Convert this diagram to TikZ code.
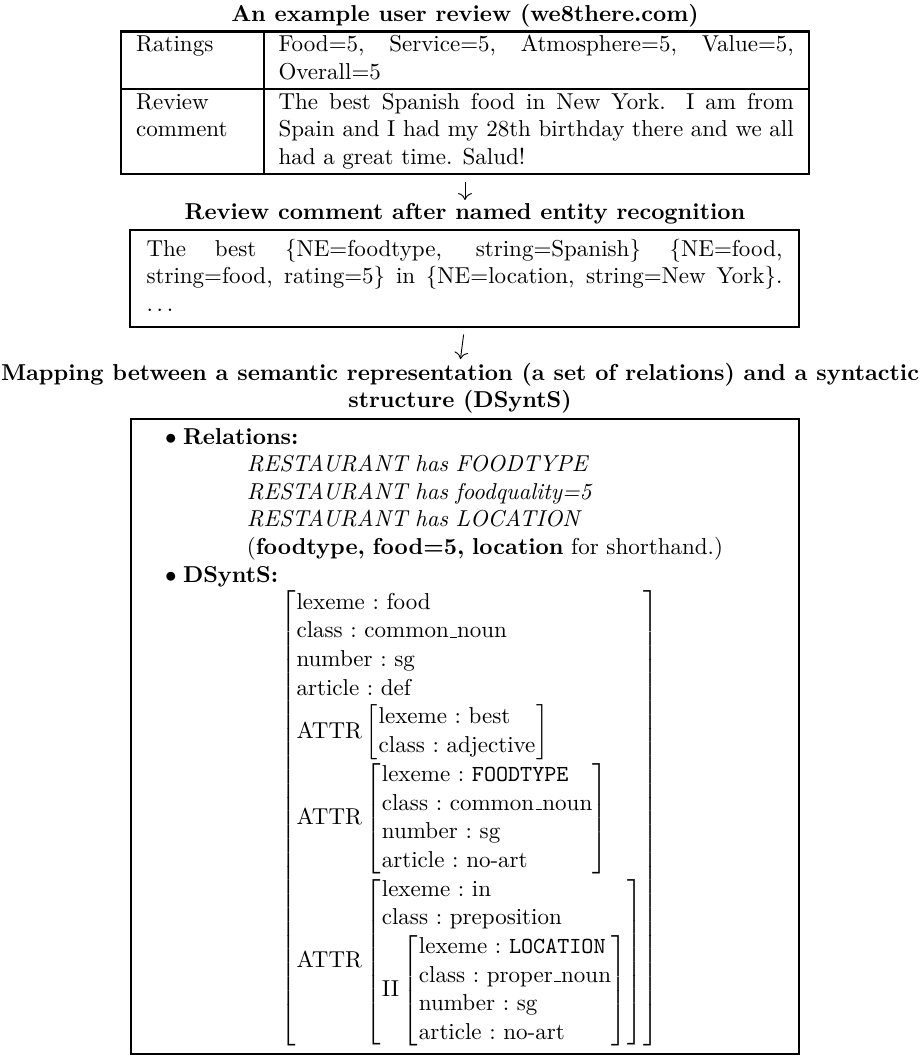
\documentclass[tikz,border=0pt]{standalone}
\usepackage{array}
\usetikzlibrary{arrows.meta}
\setlength{\arrayrulewidth}{0.9pt}
\newcommand{\avmbox}[1]{\left[\begin{array}{@{\hspace{0.3pt}}l@{\hspace{0.3pt}}}#1\end{array}\right]}
\newcommand{\us}{\leavevmode\kern.06em\vbox{\hrule width .3em}}
\newcommand{\av}[1]{\mbox{\frenchspacing #1}}
\tikzset{
  ttl/.style={font=\bfseries, inner sep=0pt},
  box/.style={draw, line width=0.9pt},
  arr/.style={-{Computer Modern Rightarrow[length=3pt,width=6pt]}, line width=0.4pt, shorten <=3pt, shorten >=1.5pt}
}
\begin{document}
\begin{tikzpicture}[x=0.4348pt, y=-0.4348pt]
\useasboundingbox (0,0) rectangle (919,1056);

\node[ttl, anchor=base] (t1) at (465,22) {An example user review (we8there.com)};

\node[anchor=north, inner sep=0pt] (tab) at (465,30) {%
\begin{tabular}{|p{49pt}|p{224pt}|}\hline
Ratings & Food=5, Service=5, Atmosphere=5, Value=5, Overall=5\\\hline
Review comment & The best Spanish food in New York. I am from Spain and I had my 28th birthday there and we all had a great time. Salud!\\\hline
\end{tabular}};

\node[ttl, anchor=base] (t2) at (465,220) {Review comment after named entity recognition};

\node[box, anchor=north, text width=276.5pt, inner xsep=7.2pt, inner ysep=3pt, align=justify] (ne) at (464.5,229)
{\strut The best \{NE=foodtype, string=Spanish\} \{NE=food,\linebreak string=food, rating=5\} in \{NE=location, string=New York\}.\linebreak $\ldots$\strut};

\node[ttl, anchor=south, align=center] (t3) at (460,414)
{Mapping between a semantic representation (a set of relations) and a syntactic\\ structure (DSyntS)};

\node[box, anchor=north west, text width=290.4pt, inner xsep=0pt, inner ysep=2.5pt, align=left] (sem) at (130,418)
{\strut\hspace*{14.8pt}$\bullet$\hspace*{2.8pt}\textbf{Relations:}\\
\hspace*{50.4pt}\textit{RESTAURANT has FOODTYPE}\\
\hspace*{50.4pt}\textit{RESTAURANT has foodquality=5}\\
\hspace*{50.4pt}\textit{RESTAURANT has LOCATION}\\
\hspace*{50.4pt}(\textbf{foodtype, food=5, location} for shorthand.)\\
\hspace*{14.8pt}$\bullet$\hspace*{2.8pt}\textbf{DSyntS:}\\[0pt]
\hspace*{65pt}{\renewcommand{\arraystretch}{1.04}$\avmbox{
\av{lexeme : food}\\
\av{class : common\us noun}\\
\av{number : sg}\\
\av{article : def}\\
\av{ATTR}\avmbox{\av{lexeme : best}\\ \av{class : adjective}}\\
\av{ATTR}\avmbox{\av{lexeme : \texttt{FOODTYPE}}\\ \av{class : common\us noun}\\ \av{number : sg}\\ \av{article : no-art}}\\
\av{ATTR}\avmbox{\av{lexeme : in}\\ \av{class : preposition}\\ \av{II}\avmbox{\av{lexeme : \texttt{LOCATION}}\\ \av{class : proper\us noun}\\ \av{number : sg}\\ \av{article : no-art}}}
}$}};

\draw[arr] (tab.south) -- (t2.north);
\draw[arr] (ne.south) -- (t3.north);
\end{tikzpicture}
\end{document}
